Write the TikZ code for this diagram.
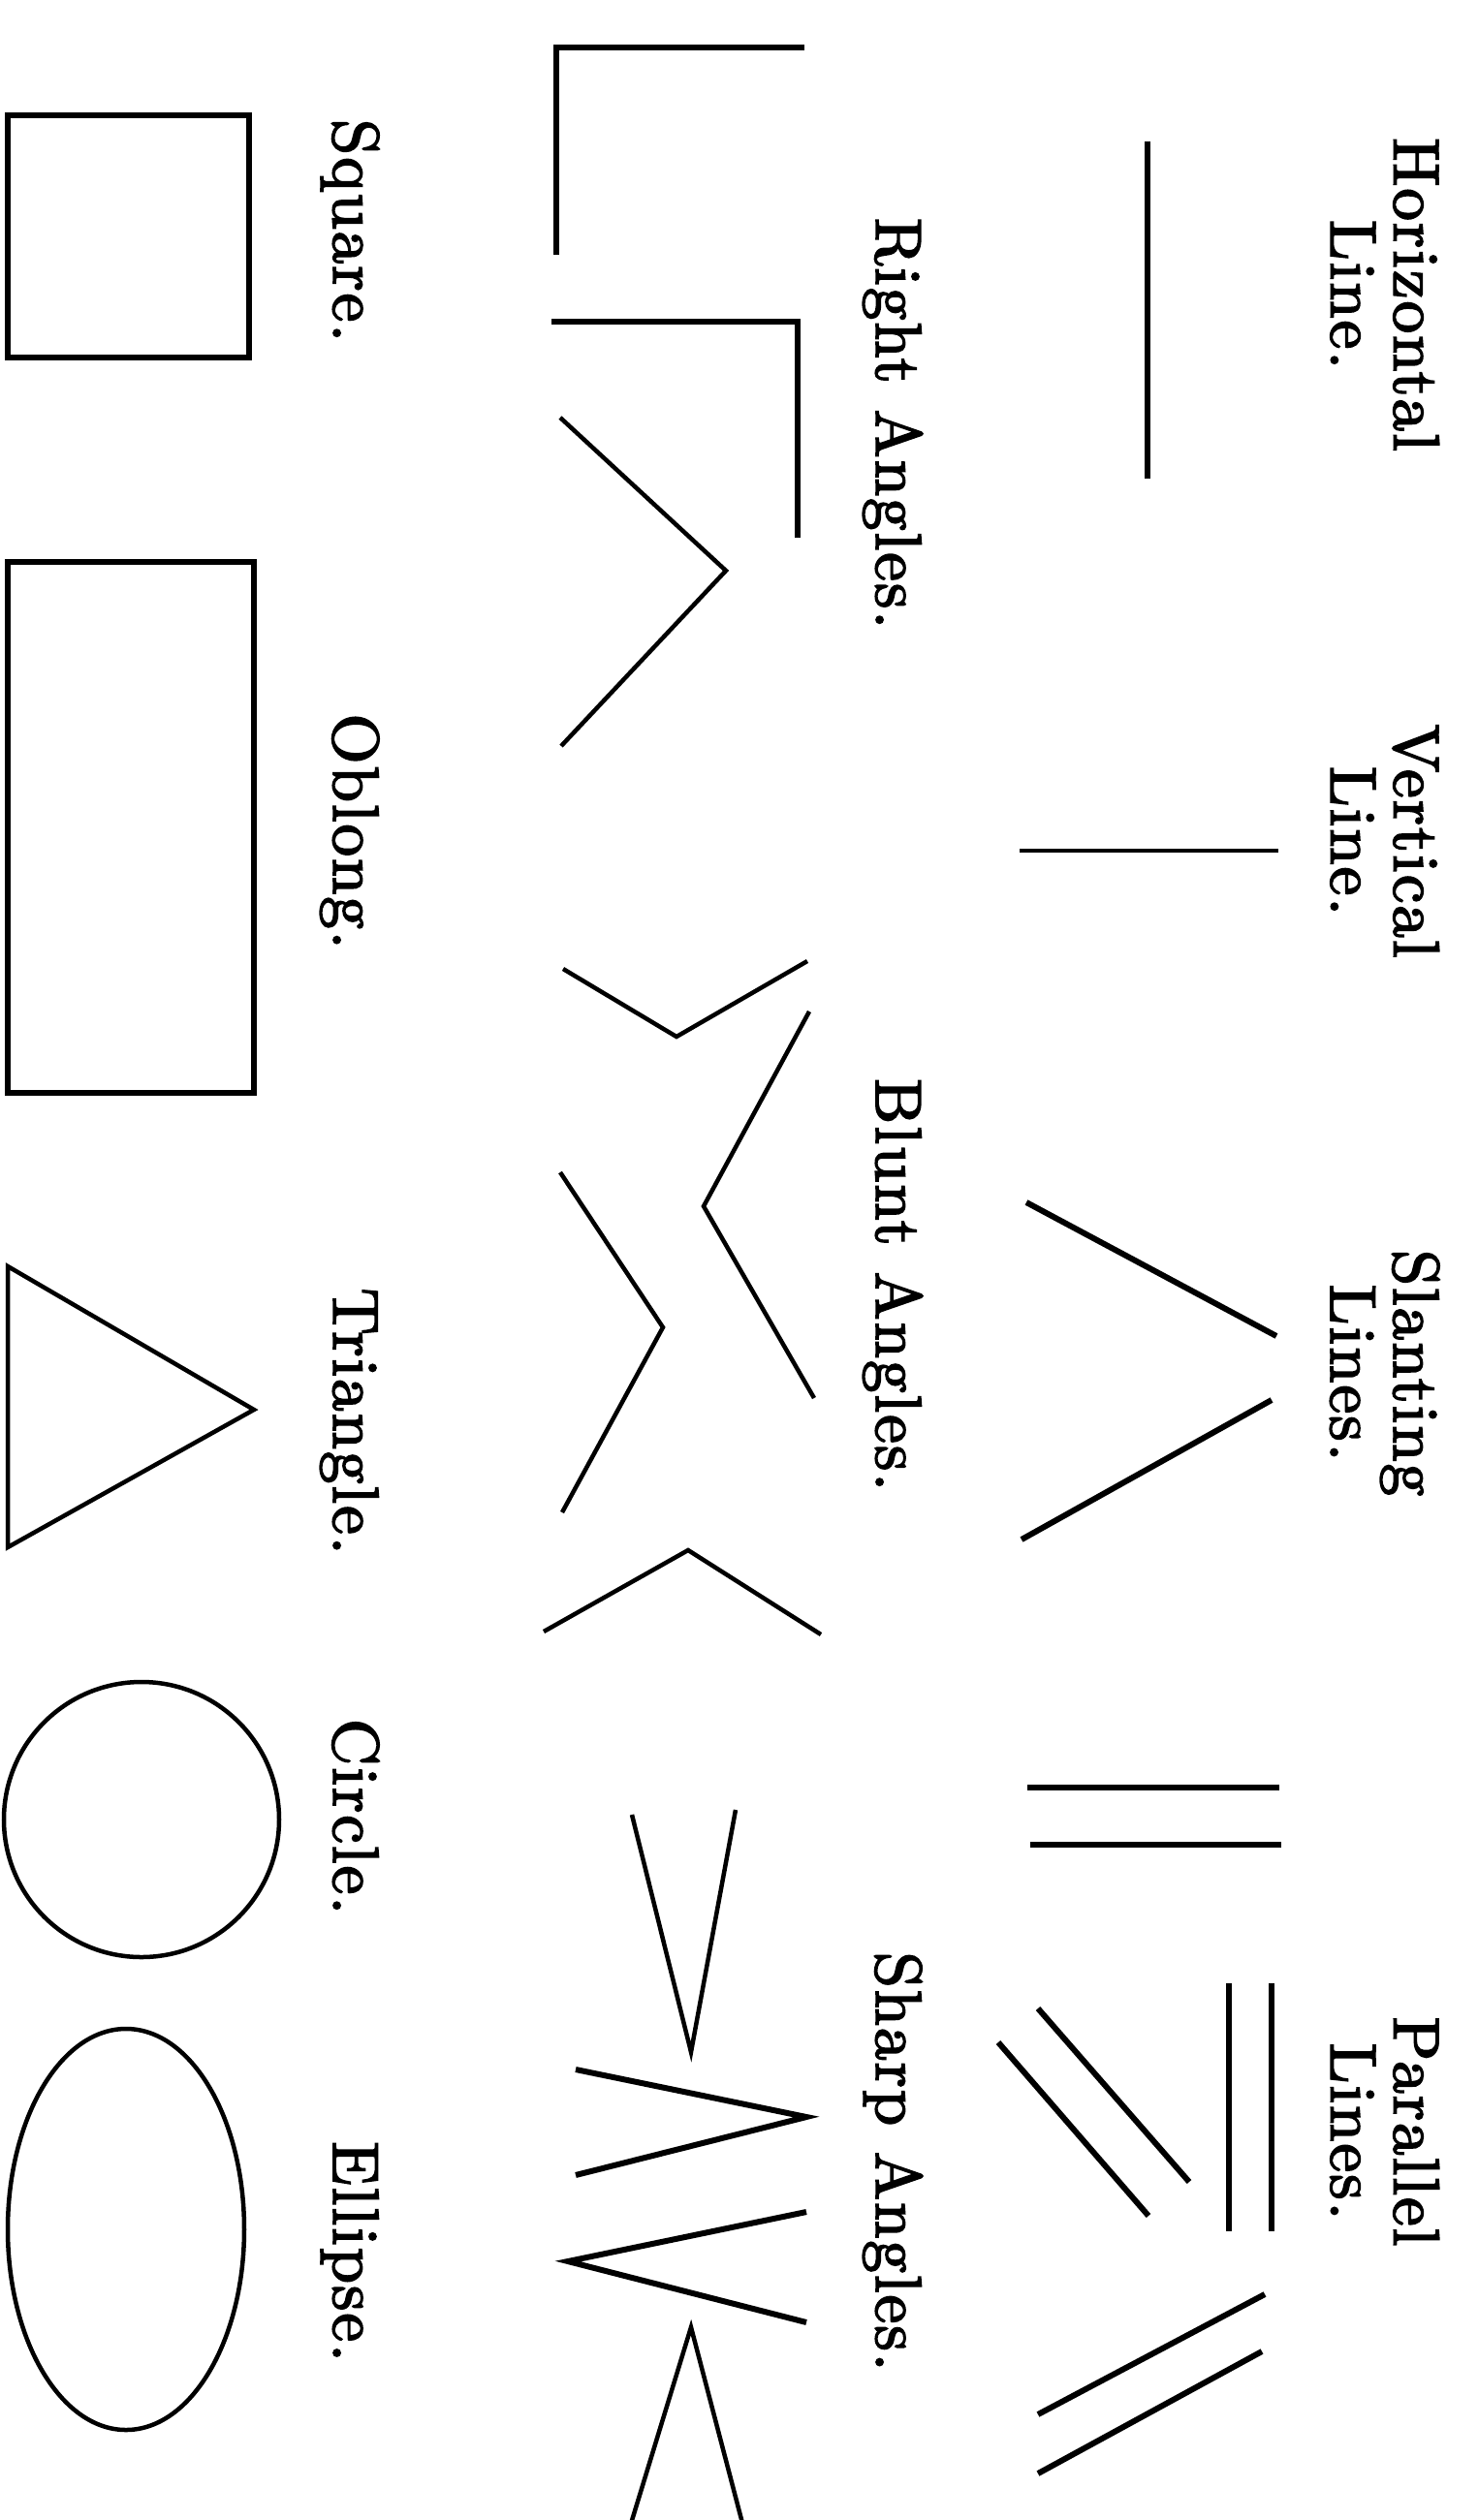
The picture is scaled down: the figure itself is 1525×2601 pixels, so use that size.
\documentclass[tikz,border=0pt]{standalone}
\usepackage{fontspec}
\newfontfamily\capfont{lmroman10-regular.otf}[LetterSpace=3, FakeBold=2.5]
\usepackage{tikz}

\begin{document}
\begin{tikzpicture}[x=1pt, y=-1pt,
    figname/.style={rotate=-90, inner sep=0pt, font={\capfont\fontsize{67}{65}\selectfont\spaceskip=0.4em\relax}},
    boldline/.style={line width=6pt},
    fineline/.style={line width=4.5pt}]
    \useasboundingbox (0,0) rectangle (1525,2601);

    % First row: lines
    \node[figname, align=center] (horiz) at (1428.7,304) {Horizontal\\Line.};
    \node[figname, align=center] (vert) at (1428.7,868) {Vertical\\Line.};
    \node[figname, align=center] (slant) at (1428.7,1417) {Slanting\\Lines.};
    \node[figname, align=center] (para) at (1428.7,2200) {Parallel\\Lines.};

    \draw[boldline] (1184,146) -- (1184,494);
    \draw[fineline] (1052,878) -- (1319,878);
    \draw[boldline] (1059,1241) -- (1317,1379);
    \draw[boldline] (1312,1445) -- (1054,1589);
    % parallel pairs
    \draw[boldline] (1060,1845) -- (1320,1845);
    \draw[boldline] (1063,1904) -- (1322,1904);
    \draw[boldline] (1268,2047) -- (1268,2303);
    \draw[boldline] (1312,2047) -- (1312,2303);
    \draw[boldline] (1071,2073) -- (1227,2252);
    \draw[boldline] (1030,2108) -- (1185,2287);
    \draw[boldline] (1305,2368) -- (1071,2492);
    \draw[boldline] (1302,2427) -- (1071,2553);

    % Second row: angles
    \node[figname, anchor=base] (right) at (904,437) {Right Angles.};
    \node[figname, anchor=base] (blunt) at (904,1326) {Blunt Angles.};
    \node[figname, anchor=base] (sharp) at (904,2231) {Sharp Angles.};

    \draw[boldline] (830,49) -- (574,49) -- (574,263);
    \draw[boldline] (569,332) -- (823,332) -- (823,555);
    \draw[fineline] (578,431) -- (749,589) -- (579,770);
    \draw[fineline] (581,1000) -- (698,1070) -- (833,992);
    \draw[fineline] (835,1044) -- (726,1245) -- (840,1443);
    \draw[fineline] (578,1210) -- (684,1370) -- (580,1561);
    \draw[fineline] (561,1684) -- (710,1600) -- (847,1687);
    % sharp angles
    \draw[fineline] (652,1873) -- (713,2118) -- (759,1868);
    \draw[boldline] (594,2136) -- (832,2185) -- (594,2245);
    \draw[boldline] (832,2283) -- (586,2334) -- (832,2397);
    \draw[fineline] (650,2608) -- (713,2402) -- (767,2608);

    % Third row: figures
    \node[figname, anchor=base] (square) at (344,238) {Square.};
    \node[figname, anchor=base] (oblong) at (344,858) {Oblong.};
    \node[figname, anchor=base] (tri) at (344,1467) {Triangle.};
    \node[figname, anchor=base] (circ) at (344,1875) {Circle.};
    \node[figname, anchor=base] (ellip) at (344,2324) {Ellipse.};

    \draw[boldline] (8,119) rectangle (257,369);
    \draw[boldline] (8,580) rectangle (262,1128);
    \draw[fineline] (8,1307) -- (262,1455) -- (8,1597) -- cycle;
    \draw[fineline] (146,1878) circle (142);
    \draw[fineline] (130,2301) ellipse (122 and 207);

\end{tikzpicture}
\end{document}
